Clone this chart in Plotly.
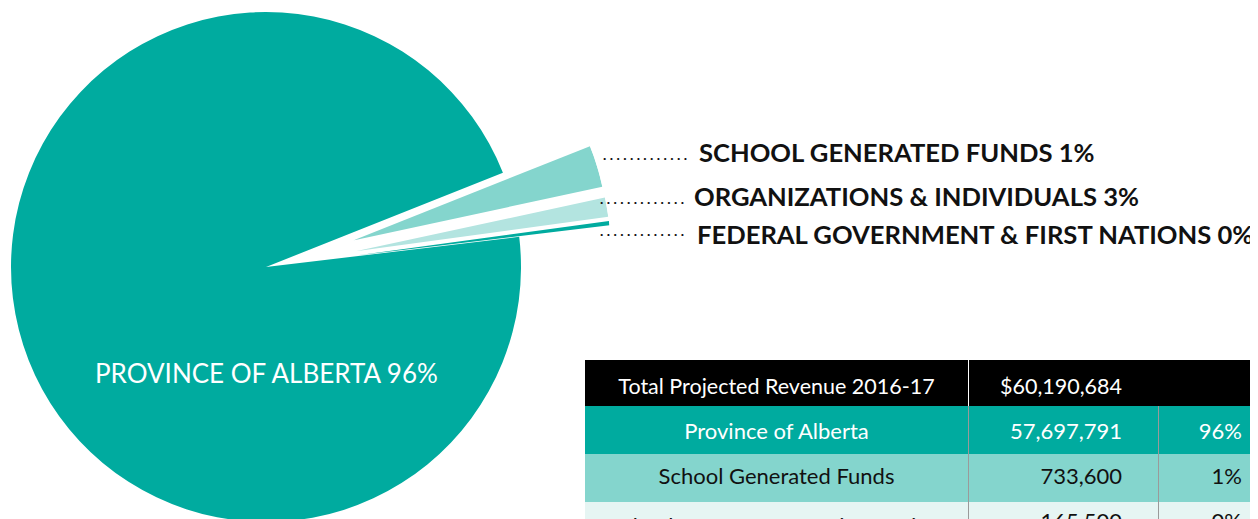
import math
import plotly.graph_objects as go

W, H = 1258, 519
OFF = 8  # the page body margin shifts the figure by this many px


def xp(x):
    """page pixel x -> paper fraction"""
    return (x - OFF) / W


def yp(y):
    """page pixel y (from top) -> paper fraction"""
    return (H - (y - OFF)) / H


# ---------------- data ----------------
table_sources = ["Province of Alberta", "School Generated Funds",
                 "Federal Government & First Nations", "Organizations & Individuals"]
table_amounts = ["57,697,791", "733,600", "165,500", "1,593,793"]
table_shares = ["96%", "1%", "0%", "3%"]
total_label = "Total Projected Revenue 2016-17"
total_amount = "$60,190,684"

pie_labels = ["ORGANIZATIONS & INDIVIDUALS", "SCHOOL GENERATED FUNDS",
              "FEDERAL GOVERNMENT & FIRST NATIONS", "PROVINCE OF ALBERTA"]
pie_values = [1593793, 733600, 165500, 57697791]
callout_texts = ["SCHOOL GENERATED FUNDS 1%", "ORGANIZATIONS & INDIVIDUALS 3%",
                 "FEDERAL GOVERNMENT & FIRST NATIONS 0%"]
main_label = "PROVINCE OF ALBERTA 96%"

# ---------------- style ----------------
TEAL = "#00AB9F"
MINT = "#84D5CD"
PALE = "#B3E4E0"
ICE = "#E6F5F3"
slice_colors = [MINT, PALE, TEAL, TEAL]
FONT = "Lato"

CX, CY, R = 266, 267, 255      # main pie centre / radius (page px)
ROT = 68.3                     # compass angle where first slice starts
PULL = 91                      # px the small slices are pulled out

fig = go.Figure()

# main pie: only the province slice is visible
fig.add_trace(go.Pie(
    values=pie_values, labels=pie_labels, sort=False, direction="clockwise",
    rotation=ROT, textinfo="none", showlegend=False,
    marker=dict(colors=["rgba(0,0,0,0)"] * 3 + [TEAL], line=dict(width=0)),
    domain=dict(x=[xp(CX - R), xp(CX + R)], y=[yp(CY + R), yp(CY - R)]),
))

# exploded slices: one polar sector per slice, origin at the pulled apex
total = sum(pie_values)
cum = 0.0
layout_polars = {}
for i in range(3):
    a_hi = 90 - ROT - cum / total * 360
    cum += pie_values[i]
    a_lo = 90 - ROT - cum / total * 360
    mid = (a_hi + a_lo) / 2
    px = CX + PULL * math.cos(math.radians(mid))
    py = CY - PULL * math.sin(math.radians(mid))
    name = "polar" if i == 0 else f"polar{i + 1}"
    layout_polars[name] = dict(
        domain=dict(x=[xp(px), xp(px + R)], y=[yp(py), yp(py - 0.5 * R)]),
        sector=[0, 30], bgcolor="rgba(0,0,0,0)",
        radialaxis=dict(visible=False, range=[0, 1]),
        angularaxis=dict(visible=False),
    )
    fig.add_trace(go.Barpolar(
        r=[1], theta=[mid], width=[a_hi - a_lo], name=pie_labels[i],
        marker=dict(color=slice_colors[i], line=dict(width=0)),
        subplot=name, showlegend=False,
    ))

# table: one trace for the cell fills, one (slightly lower) for the text,
# so the text sits vertically centred in the rows as in the reference
DIV = "#9a9a9a"
NONE = "rgba(0,0,0,0)"
blank = [""] * len(table_sources)
text_cols = [table_sources, blank, table_amounts, blank, blank, table_shares, blank]
fill_cols = [blank] * 7
row_fill = [TEAL, MINT, ICE, PALE]
row_font = ["white", "#111111", "#111111", "#111111"]
cell_fill = [row_fill, [DIV] * 4, row_fill, row_fill, [DIV] * 4, row_fill, row_fill]
aligns = ["center", "center", "right", "center", "center", "right", "center"]
widths = [383, 1, 161, 28, 1, 91, 16]

fig.add_trace(go.Table(
    domain=dict(x=[xp(585), 1], y=[0, yp(360)]),
    columnwidth=widths,
    header=dict(
        values=[""] * 7,
        fill_color=["black", "white", "black", "black", "black", "black", "black"],
        line=dict(width=0), height=46,
    ),
    cells=dict(values=fill_cols, fill_color=cell_fill, line=dict(width=0), height=48),
    hoverinfo="skip",
))
fig.add_trace(go.Table(
    domain=dict(x=[xp(585), 1], y=[0, yp(370)]),
    columnwidth=widths,
    header=dict(
        values=[total_label, "", total_amount, "", "", "", ""],
        fill_color=NONE, line=dict(width=0), align=aligns,
        font=dict(family=FONT, size=21.5, color="white"),
        height=44,
    ),
    cells=dict(
        values=text_cols, fill_color=NONE, line=dict(width=0), align=aligns,
        font=dict(family=FONT, size=22, color=[row_font]),
        height=45,
    ),
))

annotations = []
callout_pos = [(697, 152), (692, 196), (695, 234)]
dot_pos = [(692, 154), (689, 198), (689, 230)]
for txt, (x, y), (dx, dy) in zip(callout_texts, callout_pos, dot_pos):
    annotations.append(dict(
        text=txt, x=xp(x), y=yp(y), xref="paper", yref="paper",
        xanchor="left", yanchor="middle", showarrow=False,
        font=dict(family=FONT, size=25.6, color="#111111", weight="bold"),
    ))
    annotations.append(dict(
        text=". " * 13, x=xp(dx), y=yp(dy), xref="paper", yref="paper",
        xanchor="right", yanchor="middle", showarrow=False,
        font=dict(family=FONT, size=14, color="#111111", weight="bold"),
    ))
annotations.append(dict(
    text=main_label, x=xp(266), y=yp(373), xref="paper", yref="paper",
    xanchor="center", yanchor="middle", showarrow=False,
    font=dict(family=FONT, size=26, color="white"),
))

fig.update_layout(
    width=W, height=H, margin=dict(l=0, r=0, t=0, b=0),
    paper_bgcolor="white", plot_bgcolor="white", showlegend=False,
    annotations=annotations, **layout_polars,
)

fig.write_html("out.html")
